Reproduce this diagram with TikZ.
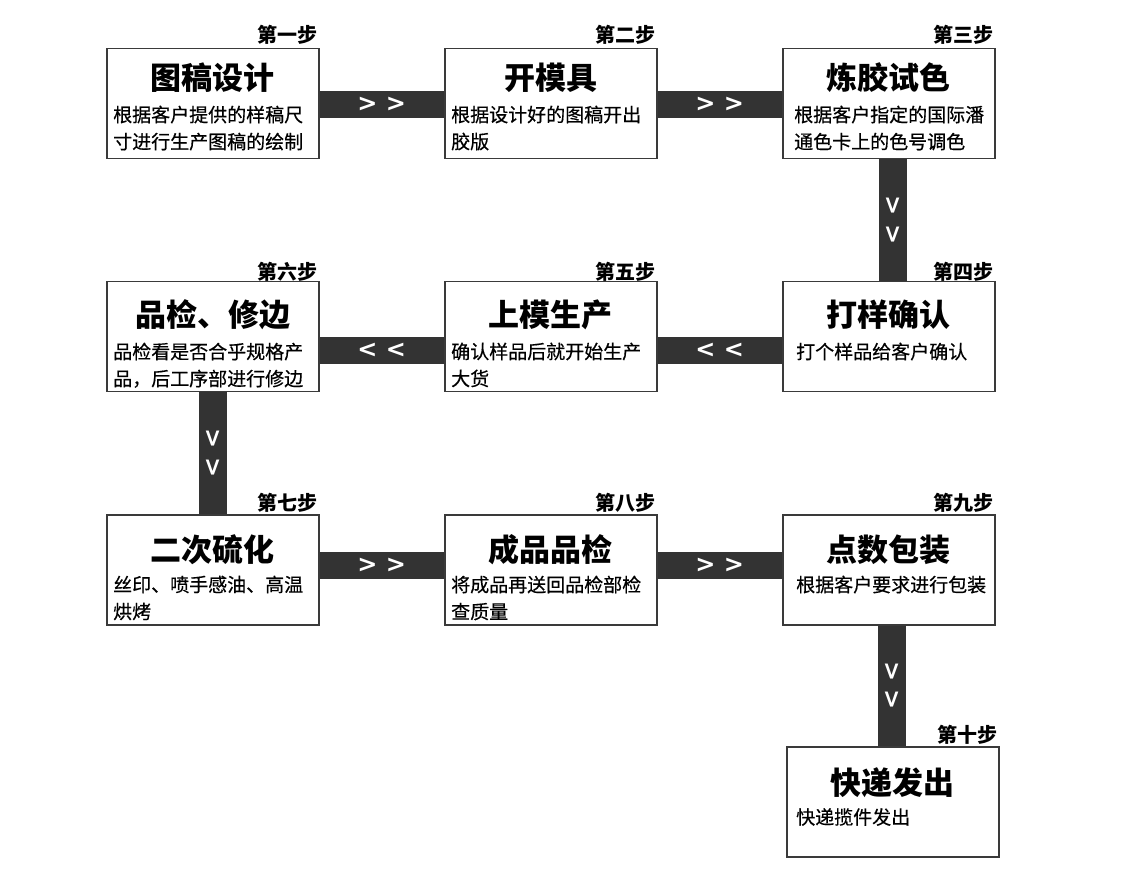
\documentclass[tikz,border=0pt]{standalone}
\usepackage{fontspec}
\setmainfont{Noto Sans CJK SC}
\newfontfamily\descfont[FakeBold=0.5]{Noto Sans CJK SC}
\newfontfamily\chevfont{DejaVu Sans Bold}
\definecolor{barc}{HTML}{333333}
\definecolor{boxc}{HTML}{3a3a3a}
\tikzset{
  stepbox/.style={draw=boxc, line width=1.5pt, fill=white, minimum width=212pt, minimum height=110pt, inner sep=0pt, anchor=north west},
  ttl/.style={font=\fontsize{31}{36}\selectfont\bfseries, inner sep=0pt},
  desc/.style={font=\fontsize{19}{27}\selectfont\descfont, inner sep=0pt, align=left, anchor=north west},
  steplbl/.style={font=\fontsize{20}{24}\selectfont\bfseries, inner sep=0pt, anchor=east},
  hbar/.style={draw=barc, line width=27pt},
  vbar/.style={draw=barc, line width=28pt},
  chev/.style={text=white, font=\chevfont\fontsize{24}{26}\selectfont, inner sep=0pt},
}
\begin{document}
\begin{tikzpicture}[x=1pt,y=-1pt]
\useasboundingbox (0,0) rectangle (1135,874);
% boxes
\node[stepbox] (b1) at (106,48) {};
\node[stepbox] (b2) at (444,48) {};
\node[stepbox] (b3) at (782,48) {};
\node[stepbox] (b6) at (106,281) {};
\node[stepbox] (b5) at (444,281) {};
\node[stepbox] (b4) at (782,281) {};
\node[stepbox] (b7) at (106,514) {};
\node[stepbox] (b8) at (444,514) {};
\node[stepbox] (b9) at (782,514) {};
\node[stepbox] (b10) at (786,746) {};
% connectors
\draw[hbar] ([yshift=-1pt]b1.east) -- node[chev] (c12) {> >} ([yshift=-1pt]b2.west);
\draw[hbar] ([yshift=-1pt]b2.east) -- node[chev] (c23) {> >} ([yshift=-1pt]b3.west);
\draw[vbar] ([xshift=4pt]b3.south) -- node[chev, rotate=-90] (c34) {> >} ([xshift=4pt]b3.south |- b4.north);
\draw[hbar] ([yshift=-14pt]b4.west) -- node[chev] (c45) {< <} ([yshift=-14pt]b5.east);
\draw[hbar] ([yshift=-14pt]b5.west) -- node[chev] (c56) {< <} ([yshift=-14pt]b6.east);
\draw[vbar] (b6.south) -- node[chev, rotate=-90] (c67) {> >} (b7.north);
\draw[hbar] ([yshift=4pt]b7.east) -- node[chev] (c78) {> >} ([yshift=4pt]b8.west);
\draw[hbar] ([yshift=4pt]b8.east) -- node[chev] (c89) {> >} ([yshift=4pt]b9.west);
\draw[vbar] ([xshift=3pt]b9.south) -- node[chev, rotate=-90] (c910) {> >} ([xshift=3pt]b9.south |- b10.north);
% step labels
\node[steplbl] (s1) at ([xshift=-2pt,yshift=13pt]b1.north east) {第一步};
\node[steplbl] (s2) at ([xshift=-2pt,yshift=13pt]b2.north east) {第二步};
\node[steplbl] (s3) at ([xshift=-2pt,yshift=13pt]b3.north east) {第三步};
\node[steplbl] (s4) at ([xshift=-2pt,yshift=9pt]b4.north east) {第四步};
\node[steplbl] (s5) at ([xshift=-2pt,yshift=9pt]b5.north east) {第五步};
\node[steplbl] (s6) at ([xshift=-2pt,yshift=9pt]b6.north east) {第六步};
\node[steplbl] (s7) at ([xshift=-2pt,yshift=11pt]b7.north east) {第七步};
\node[steplbl] (s8) at ([xshift=-2pt,yshift=11pt]b8.north east) {第八步};
\node[steplbl] (s9) at ([xshift=-2pt,yshift=11pt]b9.north east) {第九步};
\node[steplbl] (s10) at ([xshift=-2pt,yshift=11pt]b10.north east) {第十步};
% titles
\node[ttl] (t1) at ([yshift=-30pt]b1.north) {图稿设计};
\node[ttl] (t2) at ([yshift=-30pt]b2.north) {开模具};
\node[ttl] (t3) at ([yshift=-30pt]b3.north) {炼胶试色};
\node[ttl] (t4) at ([yshift=-34pt]b4.north) {打样确认};
\node[ttl] (t5) at ([yshift=-34pt]b5.north) {上模生产};
\node[ttl] (t6) at ([yshift=-34pt]b6.north) {品检、修边};
\node[ttl] (t7) at ([yshift=-36pt]b7.north) {二次硫化};
\node[ttl] (t8) at ([yshift=-36pt]b8.north) {成品品检};
\node[ttl] (t9) at ([yshift=-36pt]b9.north) {点数包装};
\node[ttl] (t10) at ([yshift=-37pt]b10.north) {快递发出};
% descriptions
\node[desc] (d1) at ([xshift=7pt,yshift=-57.5pt]b1.north west) {根据客户提供的样稿尺\\寸进行生产图稿的绘制};
\node[desc] (d2) at ([xshift=7pt,yshift=-57.5pt]b2.north west) {根据设计好的图稿开出\\胶版};
\node[desc] (d3) at ([xshift=12pt,yshift=-57.5pt]b3.north west) {根据客户指定的国际潘\\通色卡上的色号调色};
\node[desc] (d4) at ([xshift=14pt,yshift=-61.5pt]b4.north west) {打个样品给客户确认};
\node[desc] (d5) at ([xshift=7pt,yshift=-61.5pt]b5.north west) {确认样品后就开始生产\\大货};
\node[desc] (d6) at ([xshift=7pt,yshift=-61.5pt]b6.north west) {品检看是否合乎规格产\\品，后工序部进行修边};
\node[desc] (d7) at ([xshift=7pt,yshift=-61.5pt]b7.north west) {丝印、喷手感油、高温\\烘烤};
\node[desc] (d8) at ([xshift=7pt,yshift=-61.5pt]b8.north west) {将成品再送回品检部检\\查质量};
\node[desc] (d9) at ([xshift=14pt,yshift=-61.5pt]b9.north west) {根据客户要求进行包装};
\node[desc] (d10) at ([xshift=10pt,yshift=-62pt]b10.north west) {快递揽件发出};
\end{tikzpicture}
\end{document}
